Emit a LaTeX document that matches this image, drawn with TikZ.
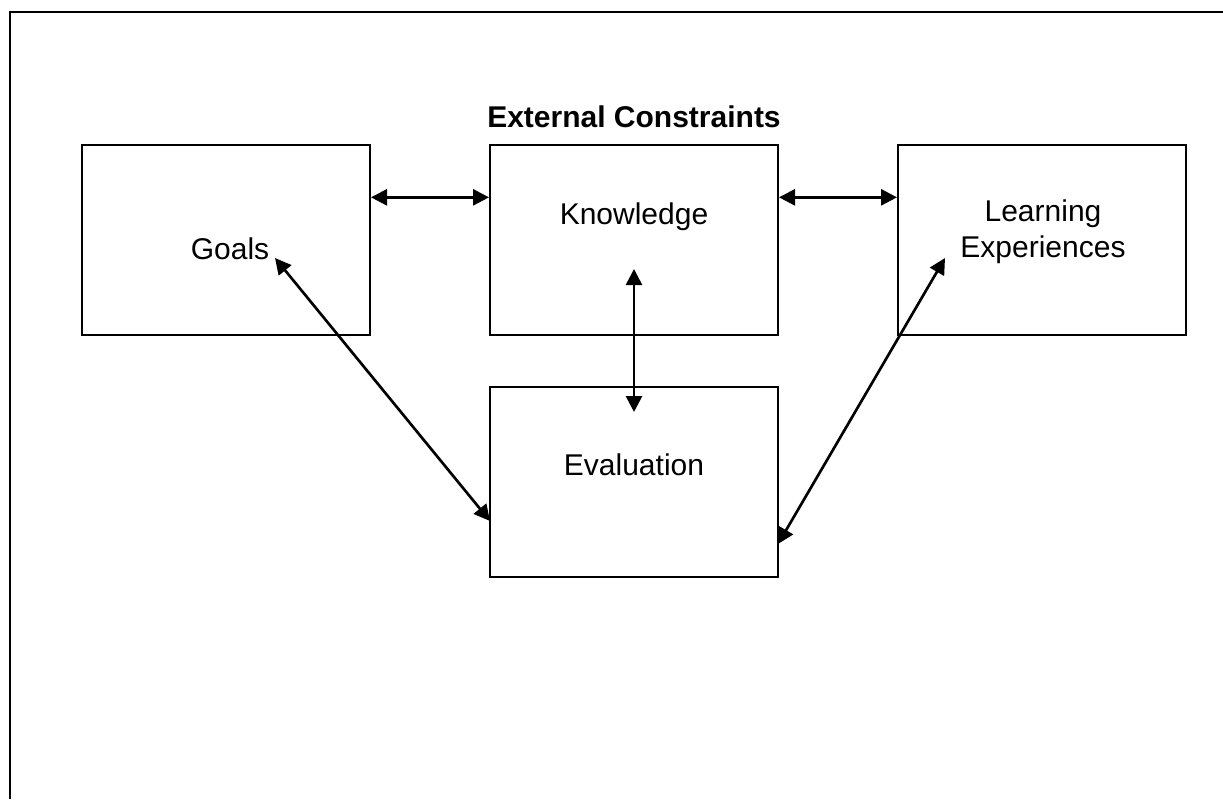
\documentclass[tikz,border=0pt]{standalone}
\usepackage{fontspec}
\setmainfont{Liberation Sans}
\usetikzlibrary{arrows.meta}
\begin{document}
\begin{tikzpicture}[x=0.75pt,y=-0.75pt,
  box/.style={draw,line width=1.5pt,minimum width=216pt,minimum height=143pt,inner sep=0pt},
  lbl/.style={font=\fontsize{22.5}{27}\selectfont,align=center,inner sep=0pt},
  arr/.style={line width=2pt,{Triangle[length=12pt,width=12pt]}-{Triangle[length=12pt,width=12pt]}}]
\useasboundingbox (0,0) rectangle (1223,799);
\draw[line width=1.5pt] (10,799) -- (10,12) -- (1223,12);
\node[font=\bfseries\fontsize{22.5}{27}\selectfont,inner sep=0pt] (title) at (634,117) {External Constraints};
\node[box] (goals) at (226,240) {};
\node[box] (know) at (634,240) {};
\node[box] (learn) at (1042,240) {};
\node[box] (eval) at (634,482) {};
\node[lbl] (tgoals) at (230,249) {Goals};
\node[lbl] (tknow) at (634,217) {Knowledge};
\node[lbl] (tlearn) at (1043,232) {Learning\\Experiences};
\node[lbl] (teval) at (634,465) {Evaluation};
\coordinate (gtip) at (275,258);
\coordinate (etipl) at (490,521);
\coordinate (ltip) at (945,258);
\coordinate (etipr) at (778,544);
\coordinate (ktop) at (634,269);
\coordinate (kbot) at (634,412);
\draw[arr] ([yshift=32pt]goals.east) -- ([yshift=32pt]know.west);
\draw[arr] ([yshift=32pt]know.east) -- ([yshift=32pt]learn.west);
\draw[arr] (ktop) -- (kbot);
\draw[arr] (gtip) -- (etipl);
\draw[arr] (ltip) -- (etipr);
\end{tikzpicture}
\end{document}
